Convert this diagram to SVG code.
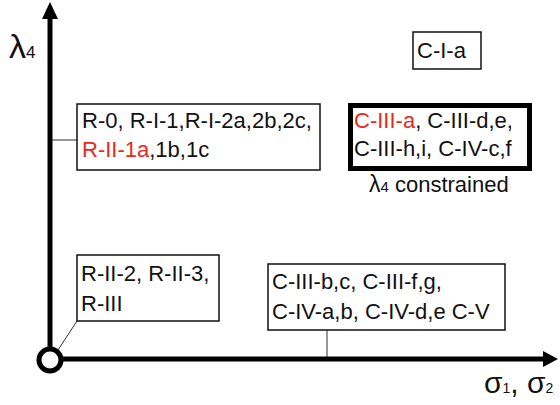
<svg xmlns="http://www.w3.org/2000/svg" width="560" height="405" viewBox="0 0 560 405">
<style>
.t{font-family:"Liberation Sans",Arial,Helvetica,sans-serif;font-size:22px;fill:#111}
.r{fill:#e8291c}
.box{fill:#fff;stroke:#111;stroke-width:1.5}
.thick{fill:#fff;stroke:#000;stroke-width:5}
.axis{stroke:#000;stroke-width:5;fill:none}
.conn{stroke:#333;stroke-width:1;fill:none}
</style>
<rect width="560" height="405" fill="#fff"/>
<g id="connectors">
<line class="conn" x1="52" y1="140" x2="77" y2="140"/>
<line class="conn" x1="77" y1="321" x2="58" y2="350"/>
<line class="conn" x1="327" y1="330" x2="327" y2="358"/>
</g>
<g id="axes">
<line class="axis" x1="50" y1="348" x2="50" y2="16"/>
<polygon points="50,2 42,19 58,19" fill="#000"/>
<line class="axis" x1="62" y1="359" x2="545" y2="359"/>
<polygon points="558,359 543,351 543,367" fill="#000"/>
<circle cx="50" cy="360" r="11" fill="#fff" stroke="#000" stroke-width="5"/>
<text class="t" x="9" y="58" style="font-size:34px">λ<tspan style="font-size:17px">4</tspan></text>
<text class="t" x="484" y="393" style="font-size:30px">σ<tspan style="font-size:14px">1</tspan>, σ<tspan style="font-size:14px">2</tspan></text>
</g>
<g id="node-cIa">
<rect class="box" x="413" y="32" width="68" height="37"/>
<text class="t" x="417" y="58">C-I-a</text>
</g>
<g id="node-r0">
<rect class="box" x="77" y="104" width="243" height="66"/>
<text class="t" x="82" y="128">R-0, R-I-1,R-I-2a,2b,2c,</text>
<text class="t" x="82" y="157"><tspan class="r">R-II-1a</tspan>,1b,1c</text>
</g>
<g id="node-ciiia">
<rect class="thick" x="350.5" y="105.5" width="179" height="63"/>
<text class="t" x="354" y="128"><tspan class="r">C-III-a</tspan>, C-III-d,e,</text>
<text class="t" x="354" y="156">C-III-h,i, C-IV-c,f</text>
<text class="t" x="369" y="192"><tspan style="font-size:23px">λ</tspan><tspan style="font-size:15px">4</tspan> constrained</text>
</g>
<g id="node-rii2">
<rect class="box" x="77" y="255" width="142" height="66"/>
<text class="t" x="81" y="281">R-II-2, R-II-3,</text>
<text class="t" x="81" y="311">R-III</text>
</g>
<g id="node-ciiib">
<rect class="box" x="268" y="264" width="237" height="66"/>
<text class="t" x="272" y="289">C-III-b,c, C-III-f,g,</text>
<text class="t" x="272" y="319">C-IV-a,b, C-IV-d,e C-V</text>
</g>
</svg>
